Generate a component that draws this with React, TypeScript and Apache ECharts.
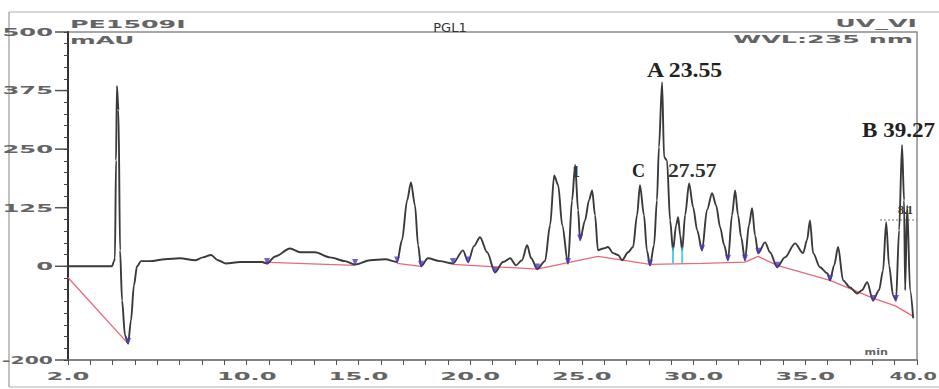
import React, { useEffect, useRef } from "react";
import * as echarts from "echarts";

// Retention time (min) and detector signal (mAU) of the chromatogram trace
const timeMin = [
  2.0, 3.97, 4.06, 4.1, 4.15, 4.19, 4.26, 4.33, 4.42, 4.55, 4.69, 4.82, 4.95, 5.09, 5.27, 5.67, 6.34, 7.01,
  7.69, 8.04, 8.4, 8.71, 9.07, 9.7, 10.68, 10.91, 11.27, 11.94, 12.39, 13.06, 13.73, 14.4, 14.85, 15.52,
  16.19, 16.73, 16.95, 17.18, 17.35, 17.53, 17.67, 17.8, 18.11, 18.65, 19.23, 19.68, 19.91, 20.17, 20.44,
  20.76, 21.11, 21.47, 21.79, 22.05, 22.32, 22.55, 22.73, 23.0, 23.35, 23.58, 23.76, 23.94, 24.12, 24.38,
  24.56, 24.7, 24.83, 24.92, 25.14, 25.32, 25.46, 25.59, 25.72, 25.95, 26.17, 26.4, 26.62, 26.8, 27.07,
  27.29, 27.47, 27.6, 27.78, 27.91, 28.05, 28.23, 28.36, 28.45, 28.59, 28.68, 28.81, 28.95, 29.08, 29.22,
  29.31, 29.4, 29.49, 29.62, 29.8, 29.98, 30.16, 30.38, 30.6, 30.83, 31.01, 31.19, 31.37, 31.54, 31.72,
  31.86, 31.99, 32.13, 32.3, 32.48, 32.62, 32.75, 32.89, 33.2, 33.42, 33.74, 34.09, 34.54, 34.9, 35.08,
  35.21, 35.35, 35.66, 35.98, 36.11, 36.29, 36.47, 36.69, 37.0, 37.32, 37.54, 37.77, 38.03, 38.3, 38.48,
  38.62, 38.75, 38.93, 39.06, 39.2, 39.33, 39.42, 39.47, 39.56, 39.69, 39.83,
];
const signalMAU = [
  0, 0, 11, 17, 226, 385, 333, 34, -73, -147, -165, -115, -41, 0, 11, 11, 15, 17,
  13, 19, 24, 13, 6, 9, 9, 6, 21, 38, 30, 30, 19, 11, 4, 13,
  15, 9, 56, 141, 179, 130, 45, 0, 17, 11, 6, 34, 9, 43, 62,
  30, -13, 9, 17, 2, 13, 45, 17, -6, 11, 88, 194, 173, 88, 6,
  141, 216, 120, 56, 98, 141, 162, 109, 34, 38, 41, 28, 24, 13, 30,
  41, 109, 173, 109, 34, 2, 45, 141, 254, 393, 233, 226, 98, 34, 88,
  105, 66, 34, 109, 177, 126, 77, 34, 120, 156, 130, 83, 45, 13, 109,
  162, 109, 62, 13, 88, 124, 66, 28, 51, 30, -2, 19, 49, 28, 56,
  98, 28, -2, -15, -30, 2, 41, -30, -45, -58, -51, -34, -73, -51, -9,
  94, 2, -62, -73, 77, 259, 141, -51, 130, -51, -111,
];

// Integration baselines (null separates segments)
const baselineTime = [
  2.0, 4.69, null,
  10.68, 14.85, null,
  16.73, 17.8, null,
  19.23, 23.0, 25.72, 28.05, 30.38, 32.3, 32.89, 33.74, 36.11, 38.03, 39.06, 39.83,
];
const baselineMAU = [
  -24, -165, null,
  9, 2, null,
  6, 0, null,
  4, -6, 21, 4, 6, 9, 21, 2, -30, -68, -85, -107,
];

// Peak start/end markers
const markerTime = [4.69, 10.91, 14.85, 16.73, 17.8, 19.23, 19.91, 21.11, 23.0, 24.38, 24.92, 28.05, 30.38, 31.54, 32.3, 32.89, 33.74, 36.11, 38.03, 39.06];
const markerMAU = [-165, 6, 4, 9, 0, 6, 9, -13, -6, 6, 56, 2, 34, 13, 13, 28, -2, -30, -73, -73];
const splitTime = [29.08, 29.49];
const splitMAU = [34, 34];

const xTickLabels = [2, 10, 15, 20, 25, 30, 35, 40];
const yTickLabels = [500, 375, 250, 125, 0, -200];

const stretchedFont = 'bold 11px "DejaVu Sans"';
const labelColor = "#646464";
const serifBold = (s: number) => `bold ${s}px "Liberation Serif"`;

export default function App() {
  const ref = useRef<HTMLDivElement>(null);

  useEffect(() => {
    const chart = echarts.init(ref.current!, null, { renderer: "svg" });

    const baselineSeries: any[] = [];
    let seg: number[][] = [];
    baselineTime.forEach((t, i) => {
      if (t === null) {
        if (seg.length) baselineSeries.push(seg);
        seg = [];
      } else {
        seg.push([t, baselineMAU[i] as number]);
      }
    });
    if (seg.length) baselineSeries.push(seg);

    const option: any = {
      animation: false,
      backgroundColor: "#ffffff",
      grid: {
        left: 68,
        right: 22,
        top: 32,
        bottom: 29,
        show: true,
        borderColor: "#8a8a8a",
        borderWidth: 1.5,
      },
      xAxis: {
        type: "value",
        min: 2,
        max: 40,
        interval: 1,
        axisLine: { show: true, onZero: false, lineStyle: { color: "#7a7a7a", width: 1.5 } },
        axisTick: { show: true, length: 5, lineStyle: { color: "#555" } },
        axisLabel: { show: false },
        splitLine: { show: false },
      },
      yAxis: {
        type: "value",
        min: -200,
        max: 500,
        interval: 25,
        axisLine: { show: true, onZero: false, lineStyle: { color: "#333", width: 2 } },
        axisTick: { show: true, length: 4, lineStyle: { color: "#444" } },
        axisLabel: { show: false },
        splitLine: { show: false },
      },
      series: [
        ...baselineSeries.map((d) => ({
          type: "line",
          data: d,
          symbol: "none",
          lineStyle: { color: "#e66a78", width: 1.3 },
          z: 2,
        })),
        {
          type: "line",
          data: timeMin.map((t, i) => [t, signalMAU[i]]),
          symbol: "none",
          smooth: 0.3,
          smoothMonotone: "x",
          lineStyle: { color: "#3a3a3a", width: 1.9 },
          z: 3,
        },
        {
          type: "scatter",
          data: markerTime.map((t, i) => [t, markerMAU[i]]),
          symbol: "triangle",
          symbolRotate: 180,
          symbolSize: [6, 7],
          symbolOffset: [0, -2],
          itemStyle: { color: "#4b3bc8" },
          z: 4,
        },
        {
          type: "scatter",
          data: splitTime.map((t, i) => [t, splitMAU[i]]),
          symbol: "rect",
          symbolSize: [2, 16],
          symbolOffset: [0, 5],
          itemStyle: { color: "#27c4e6" },
          z: 4,
        },
      ],
    };
    chart.setOption(option);

    const elements: any[] = [
      // outer frame
      { type: "line", shape: { x1: 9, y1: 12, x2: 939, y2: 12 }, style: { stroke: "#b0b0b0", lineWidth: 1.2 } },
      { type: "line", shape: { x1: 9, y1: 12, x2: 9, y2: 387 }, style: { stroke: "#9a9a9a", lineWidth: 1.2 } },
      { type: "line", shape: { x1: 9, y1: 387, x2: 939, y2: 387 }, style: { stroke: "#b0b0b0", lineWidth: 1.2 } },
      // header texts
      { type: "text", x: 70, y: 24, scaleX: 2.3, style: { text: "PE1509I", font: stretchedFont, fill: labelColor, align: "left", verticalAlign: "middle" } },
      { type: "text", x: 70, y: 40, scaleX: 2.25, style: { text: "mAU", font: stretchedFont, fill: labelColor, align: "left", verticalAlign: "middle" } },
      { type: "text", x: 450, y: 27, style: { text: "PGL1", font: '13px "DejaVu Sans"', fill: "#333", align: "center", verticalAlign: "middle" } },
      { type: "text", x: 917, y: 23, scaleX: 2.3, style: { text: "UV_VI", font: stretchedFont, fill: labelColor, align: "right", verticalAlign: "middle" } },
      { type: "text", x: 913, y: 39, scaleX: 2.3, style: { text: "WVL:235 nm", font: stretchedFont, fill: labelColor, align: "right", verticalAlign: "middle" } },
      { type: "text", x: 888, y: 352, scaleX: 1.4, style: { text: "min", font: 'bold 8px "DejaVu Sans"', fill: labelColor, align: "right", verticalAlign: "middle" } },
      // peak annotations
      { type: "text", x: 647, y: 70, scaleX: 1.08, style: { text: "A 23.55", font: serifBold(22), fill: "#222", align: "left", verticalAlign: "middle" } },
      { type: "text", x: 862, y: 130, scaleX: 1.05, style: { text: "B 39.27", font: serifBold(22), fill: "#222", align: "left", verticalAlign: "middle" } },
      { type: "text", x: 632, y: 171, style: { text: "C", font: serifBold(18), fill: "#222", align: "left", verticalAlign: "middle" } },
      { type: "text", x: 668, y: 171, scaleX: 1.2, style: { text: "27.57", font: serifBold(18), fill: "#333", align: "left", verticalAlign: "middle" } },
      { type: "text", x: 572, y: 171, style: { text: "1", font: serifBold(16), fill: "#333", align: "left", verticalAlign: "middle" } },
      { type: "text", x: 898, y: 210, style: { text: "8.1", font: serifBold(12), fill: "#333", align: "left", verticalAlign: "middle" } },
      { type: "line", shape: { x1: 880, y1: 220, x2: 917, y2: 220 }, style: { stroke: "#777", lineWidth: 1, lineDash: [2, 2] } },
    ];

    xTickLabels.forEach((v, i) => {
      const px = chart.convertToPixel({ xAxisIndex: 0 }, v) as number;
      const last = i === xTickLabels.length - 1;
      elements.push({
        type: "text",
        x: last ? 937 : px,
        y: 376,
        scaleX: last ? 1.75 : 2.2,
        style: { text: v.toFixed(1), font: stretchedFont, fill: labelColor, align: last ? "right" : "center", verticalAlign: "middle" },
      });
    });
    yTickLabels.forEach((v) => {
      const py = chart.convertToPixel({ yAxisIndex: 0 }, v) as number;
      elements.push({
        type: "text",
        x: 53,
        y: py,
        scaleX: v < 0 ? 1.85 : 2.2,
        style: { text: String(v), font: stretchedFont, fill: labelColor, align: "right", verticalAlign: "middle" },
      });
      elements.push({
        type: "line",
        shape: { x1: 55, y1: py, x2: 68, y2: py },
        style: { stroke: "#555", lineWidth: 1.5 },
      });
    });

    chart.setOption({ graphic: { elements } });

    return () => chart.dispose();
  }, []);

  return (
    <div
      ref={ref}
      style={{ position: "fixed", left: 0, top: 0, width: 939, height: 389, background: "#fff" }}
    />
  );
}
